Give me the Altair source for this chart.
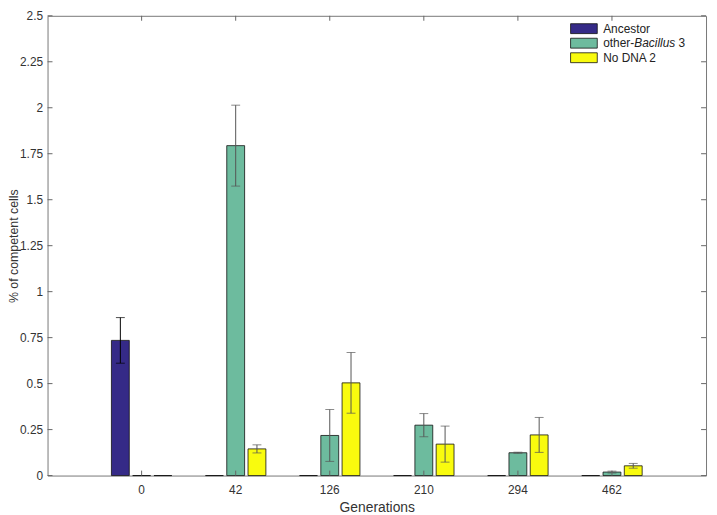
import altair as alt
import pandas as pd

# ---- data ----
generations = ["0", "42", "126", "210", "294", "462"]
series = ["Ancestor", "other-Bacillus 3", "No DNA 2"]
ancestor = [0.735, 0, 0, 0, 0, 0]
ancestor_err = [0.124, 0, 0, 0, 0, 0]
other_bacillus = [0, 1.794, 0.218, 0.274, 0.124, 0.019]
other_bacillus_err = [0, 0.220, 0.141, 0.063, 0.003, 0.005]
no_dna = [0, 0.145, 0.504, 0.171, 0.221, 0.053]
no_dna_err = [0, 0.022, 0.165, 0.098, 0.095, 0.013]
y_ticks = [0, 0.25, 0.5, 0.75, 1, 1.25, 1.5, 1.75, 2, 2.25, 2.5]

colors = ["#352A87", "#6DBB9E", "#F9FB0E"]
err_colors = ["#000000", "#555555", "#555555"]

W, H = 666, 465
FONT = "Liberation Sans"

rows = []
for s, vals, errs, ec in zip(series, [ancestor, other_bacillus, no_dna],
                             [ancestor_err, other_bacillus_err, no_dna_err], err_colors):
    for g, v, e in zip(generations, vals, errs):
        rows.append({"gen": g, "series": s, "value": v, "lo": v - e, "hi": v + e,
                     "has_err": (v > 0), "ecol": ec})
df = pd.DataFrame(rows)
edf = df[df["has_err"]].copy()

x_enc = alt.X("gen:N", sort=generations,
              scale=alt.Scale(domain=generations, paddingInner=0.358, paddingOuter=0.679),
              axis=alt.Axis(title="Generations", labelAngle=0, ticks=False, domain=False,
                            labelPadding=9, titlePadding=5, labelFontSize=12,
                            titleFontSize=14, titleFontWeight="normal",
                            labelColor="#333333", titleColor="#333333",
                            labelFont=FONT, titleFont=FONT))
xo_enc = alt.XOffset("series:N", sort=series,
                     scale=alt.Scale(domain=series, paddingInner=0.16, paddingOuter=0))
y_scale = alt.Scale(domain=[0, 2.5], nice=False, zero=True)

bars = alt.Chart(df).mark_bar(stroke="#111111", strokeWidth=0.8).encode(
    x=x_enc,
    xOffset=xo_enc,
    y=alt.Y("value:Q", scale=y_scale,
            axis=alt.Axis(title="% of competent cells", values=y_ticks,
                          labelExpr="'' + datum.value",
                          ticks=False, domain=False, grid=False, labelPadding=5,
                          titleX=-34, titleY=H / 2, titleAngle=270,
                          titleAlign="center", titleBaseline="middle",
                          labelFontSize=12, titleFontSize=12.5,
                          titleFontWeight="normal", labelColor="#333333",
                          titleColor="#333333", labelFont=FONT, titleFont=FONT)),
    color=alt.Color("series:N", sort=series,
                    scale=alt.Scale(domain=series, range=colors), legend=None),
)

err_rule = alt.Chart(edf).mark_rule(strokeWidth=1).encode(
    x=alt.X("gen:N", sort=generations),
    xOffset=alt.XOffset("series:N", sort=series),
    y=alt.Y("lo:Q", scale=y_scale),
    y2="hi:Q",
    color=alt.Color("ecol:N", scale=None),
)
cap_lo = alt.Chart(edf).mark_tick(orient="horizontal", size=9, thickness=1).encode(
    x=alt.X("gen:N", sort=generations),
    xOffset=alt.XOffset("series:N", sort=series),
    y=alt.Y("lo:Q", scale=y_scale),
    color=alt.Color("ecol:N", scale=None),
)
cap_hi = alt.Chart(edf).mark_tick(orient="horizontal", size=9, thickness=1).encode(
    x=alt.X("gen:N", sort=generations),
    xOffset=alt.XOffset("series:N", sort=series),
    y=alt.Y("hi:Q", scale=y_scale),
    color=alt.Color("ecol:N", scale=None),
)

# inward axis ticks (box style)
ytdf = pd.DataFrame({"yt": y_ticks})
tick_col = "#666666"
yt_left = alt.Chart(ytdf).mark_rule(color=tick_col).encode(
    y=alt.Y("yt:Q", scale=y_scale), x=alt.value(0), x2=alt.value(5))
yt_right = alt.Chart(ytdf).mark_rule(color=tick_col).encode(
    y=alt.Y("yt:Q", scale=y_scale), x=alt.value(W - 5), x2=alt.value(W))
xtdf = pd.DataFrame({"gen": generations})
xt_bottom = alt.Chart(xtdf).mark_rule(color=tick_col).encode(
    x=alt.X("gen:N", sort=generations), y=alt.value(H - 5), y2=alt.value(H))
xt_top = alt.Chart(xtdf).mark_rule(color=tick_col).encode(
    x=alt.X("gen:N", sort=generations), y=alt.value(0), y2=alt.value(5))

# manual legend (needed for the italic "Bacillus")
leg_y = [13, 27.7, 42.4]
legdf = pd.DataFrame({"series": series, "ly": leg_y,
                      "ly0": [v - 5 for v in leg_y], "ly1": [v + 5 for v in leg_y]})
leg_sw = alt.Chart(legdf).mark_rect(stroke="#111111", strokeWidth=0.8).encode(
    x=alt.value(529), x2=alt.value(556),
    y=alt.Y("ly0:Q", scale=None), y2="ly1:Q",
    color=alt.Color("series:N", sort=series,
                    scale=alt.Scale(domain=series, range=colors), legend=None),
)
txt_normal = pd.DataFrame({
    "t": ["Ancestor", "other-", "3", "No DNA 2"],
    "lx": [562, 562, 562 + 31.5 + 41.3 + 3.3, 562],
    "ly": [leg_y[0], leg_y[1], leg_y[1], leg_y[2]],
})
txt_italic = pd.DataFrame({"t": ["Bacillus"], "lx": [562 + 31.5], "ly": [leg_y[1]]})
leg_t1 = alt.Chart(txt_normal).mark_text(align="left", baseline="middle", fontSize=12,
                                         font=FONT, color="#222222").encode(
    x=alt.X("lx:Q", scale=None), y=alt.Y("ly:Q", scale=None), text="t:N")
leg_t2 = alt.Chart(txt_italic).mark_text(align="left", baseline="middle", fontSize=12,
                                         font=FONT, fontStyle="italic",
                                         color="#222222").encode(
    x=alt.X("lx:Q", scale=None), y=alt.Y("ly:Q", scale=None), text="t:N")

chart = alt.layer(
    bars, err_rule, cap_lo, cap_hi, yt_left, yt_right, xt_bottom, xt_top,
    leg_sw, leg_t1, leg_t2
).properties(
    width=W, height=H,
    autosize=alt.AutoSizeParams(type="none"),
    padding={"left": 40, "top": 5, "right": 3, "bottom": 37},
    background="white",
).configure_view(
    stroke="#777777", strokeWidth=1
)

chart.save("out.html", embed_options={"renderer": "svg", "actions": False})
